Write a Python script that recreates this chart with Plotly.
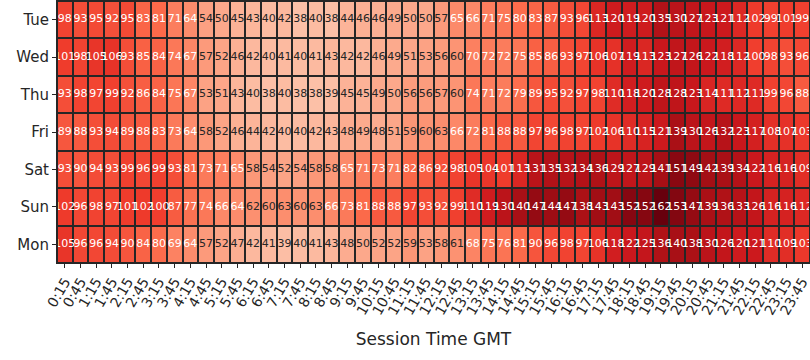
import plotly.graph_objects as go
from plotly.colors import sample_colorscale, unlabel_rgb

days = ["Tue", "Wed", "Thu", "Fri", "Sat", "Sun", "Mon"]
times = [f"{h}:{m}" for h in range(24) for m in ("15", "45")]

tue = [98,93,95,92,95,83,81,71,64,54,50,45,43,40,42,38,40,38,44,46,46,49,50,50,57,65,66,71,75,80,83,87,93,96,113,120,119,120,135,130,127,123,121,112,102,99,101,99]
wed = [101,98,105,106,93,85,84,74,67,57,52,46,42,40,41,40,41,43,42,42,46,49,51,53,56,60,70,72,72,75,85,86,93,97,106,107,119,113,123,127,126,122,118,112,100,98,93,96]
thu = [93,98,97,99,92,86,84,75,67,53,51,43,40,38,40,38,38,39,45,45,49,50,56,56,57,60,74,71,72,79,89,95,92,97,98,110,118,120,128,128,123,114,111,112,111,99,96,88]
fri = [89,88,93,94,89,88,83,73,64,58,52,46,44,42,40,40,42,43,48,49,48,51,59,60,63,66,72,81,88,88,97,96,98,97,102,106,110,115,121,139,130,126,132,123,117,108,107,103]
sat = [93,90,94,93,99,96,99,93,81,73,71,65,58,54,52,54,58,58,65,71,73,71,82,86,92,98,105,104,101,113,131,135,132,134,136,129,127,129,141,151,149,142,139,134,122,116,116,109]
sun = [102,96,98,97,101,102,100,87,77,74,66,64,62,60,63,60,63,66,73,81,88,88,97,93,92,99,110,119,130,140,147,144,147,138,143,143,152,152,162,153,147,139,136,133,126,116,116,112]
mon = [105,96,96,94,90,84,80,69,64,57,52,47,42,41,39,40,41,43,48,50,52,52,59,53,58,61,68,75,76,81,90,96,98,97,106,118,122,125,136,140,138,130,126,120,121,110,109,103]

rows = [tue, wed, thu, fri, sat, sun, mon]
ZMIN, ZMAX = 0, 162
FONT = "DejaVu Sans"

def lum(v):
    c = sample_colorscale("Reds", [(v - ZMIN) / (ZMAX - ZMIN)])[0]
    r, g, b = [x / 255 for x in unlabel_rgb(c)]
    f = lambda x: x / 12.92 if x <= 0.03928 else ((x + 0.055) / 1.055) ** 2.4
    return 0.2126 * f(r) + 0.7152 * f(g) + 0.0722 * f(b)

fig = go.Figure()
fig.add_trace(go.Heatmap(
    z=rows, x=times, y=days, colorscale="Reds", zmin=ZMIN, zmax=ZMAX,
    showscale=False, xgap=2, ygap=2, hoverinfo="skip"))

tx, ty, tt, tc = [], [], [], []
for d, row in zip(days, rows):
    for t, v in zip(times, row):
        tx.append(t); ty.append(d); tt.append(str(v))
        tc.append("#262626" if lum(v) > 0.408 else "white")
fig.add_trace(go.Scatter(x=tx, y=ty, text=tt, mode="text",
                         textfont=dict(color=tc, size=11, family=FONT),
                         hoverinfo="skip", showlegend=False, cliponaxis=True))

fig.add_shape(type="rect", xref="paper", yref="paper", x0=0, y0=0, x1=1, y1=1,
              line=dict(color="#262626", width=2))

fig.update_layout(
    width=810, height=360,
    margin=dict(l=57, r=0, t=1, b=97, autoexpand=False),
    plot_bgcolor="#262626", paper_bgcolor="white",
    font=dict(family=FONT, color="#262626"),
    xaxis=dict(type="category", categoryorder="array", categoryarray=times,
               range=[-0.5, len(times) - 0.5], tickmode="array",
               tickvals=times, ticktext=times, automargin=False,
               tickangle=-60, tickfont=dict(size=14), ticks="outside", ticklen=4,
               tickcolor="#262626", showgrid=False, zeroline=False,
               title=dict(text="Session Time GMT", font=dict(size=17), standoff=16)),
    yaxis=dict(type="category", categoryorder="array", categoryarray=days[::-1],
               range=[-0.5, len(days) - 0.5], automargin=False,
               tickfont=dict(size=15), ticks="outside", ticklen=4,
               tickcolor="#262626", showgrid=False, zeroline=False),
    showlegend=False,
)
fig.write_html("out.html", config={"displayModeBar": False, "staticPlot": True},
               post_script="document.body.style.margin='0';document.body.style.overflow='hidden';")
